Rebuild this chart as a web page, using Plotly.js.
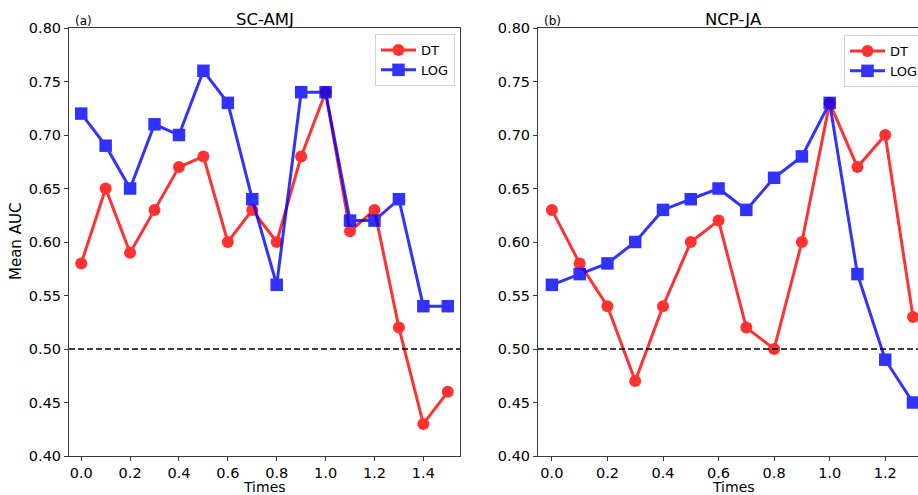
<!DOCTYPE html>
<html>
<head>
<meta charset="utf-8">
<script src="https://cdn.plot.ly/plotly-3.0.1.min.js"></script>
<style>
  html, body { margin: 0; padding: 0; overflow: hidden; background: #fff; }
  #chart { width: 940px; height: 495px; }
</style>
</head>
<body>
<div id="chart"></div>
<script>
// ---- data ----
const timesA = [0.0, 0.1, 0.2, 0.3, 0.4, 0.5, 0.6, 0.7, 0.8, 0.9, 1.0, 1.1, 1.2, 1.3, 1.4, 1.5];
const dtA    = [0.58, 0.65, 0.59, 0.63, 0.67, 0.68, 0.60, 0.63, 0.60, 0.68, 0.74, 0.61, 0.63, 0.52, 0.43, 0.46];
const logA   = [0.72, 0.69, 0.65, 0.71, 0.70, 0.76, 0.73, 0.64, 0.56, 0.74, 0.74, 0.62, 0.62, 0.64, 0.54, 0.54];

const timesB = [0.0, 0.1, 0.2, 0.3, 0.4, 0.5, 0.6, 0.7, 0.8, 0.9, 1.0, 1.1, 1.2, 1.3];
const dtB    = [0.63, 0.58, 0.54, 0.47, 0.54, 0.60, 0.62, 0.52, 0.50, 0.60, 0.73, 0.67, 0.70, 0.53];
const logB   = [0.56, 0.57, 0.58, 0.60, 0.63, 0.64, 0.65, 0.63, 0.66, 0.68, 0.73, 0.57, 0.49, 0.45];

const seriesNames = ["DT", "LOG"];
const panelTitles = ["SC-AMJ", "NCP-JA"];
const panelTags = ["(a)", "(b)"];
const baseline = 0.5;
const yTickVals = [0.40, 0.45, 0.50, 0.55, 0.60, 0.65, 0.70, 0.75, 0.80];

// ---- layout helpers ----
const W = 940, H = 495, T = 28, B = 39;
const PH = H - T - B;
const px = v => v / W;
const py = v => (H - B - v) / PH;

const FONT = "DejaVu Sans, Liberation Sans, sans-serif";
const RED = "rgb(255,0,0)", BLUE = "rgb(0,0,255)";

function mk(x, y, name, color, symbol, xa, ya, legend, size) {
  return {
    x: x, y: y, name: name, type: "scatter", mode: "lines+markers",
    xaxis: xa, yaxis: ya, legend: legend, opacity: 0.8,
    line: { color: color, width: 3 },
    marker: { color: color, symbol: symbol, size: size, line: { width: 0 } }
  };
}

const data = [
  mk(timesA, dtA, seriesNames[0], RED, "circle", "x", "y", "legend", 12),
  mk(timesA, logA, seriesNames[1], BLUE, "square", "x", "y", "legend", 12.5),
  mk(timesB, dtB, seriesNames[0], RED, "circle", "x2", "y2", "legend2", 12),
  mk(timesB, logB, seriesNames[1], BLUE, "square", "x2", "y2", "legend2", 12.5)
];

const axisCommon = {
  showgrid: false, zeroline: false, showline: true, mirror: true,
  linecolor: "#3a3a3a", linewidth: 1, ticks: "outside", ticklen: 4,
  tickwidth: 1, tickcolor: "#3a3a3a", automargin: false,
  tickfont: { family: FONT, size: 14.5, color: "#000" }
};

const xTicks = { tickmode: "linear", tick0: 0, dtick: 0.2, tickformat: ".1f" };
const yTicks = { tickmode: "array", tickvals: yTickVals, ticktext: yTickVals.map(v => v.toFixed(2)) };

const legendCommon = {
  bgcolor: "rgba(255,255,255,0.9)", bordercolor: "#d0d0d0", borderwidth: 1,
  font: { family: FONT, size: 13, color: "#000" },
  xanchor: "left", yanchor: "top", tracegroupgap: 0, itemwidth: 35
};

const layout = {
  width: W, height: H,
  margin: { l: 0, r: 0, t: T, b: B, pad: 0 },
  paper_bgcolor: "#fff", plot_bgcolor: "#fff",
  showlegend: true,
  font: { family: FONT, color: "#000" },
  xaxis: Object.assign({}, axisCommon, xTicks, { domain: [px(69), px(460)], range: [-0.05, 1.55], anchor: "y" }),
  yaxis: Object.assign({}, axisCommon, yTicks, { domain: [0, 1], range: [0.4, 0.8], anchor: "x" }),
  xaxis2: Object.assign({}, axisCommon, xTicks, { domain: [px(538), px(928)], range: [-0.05, 1.354], anchor: "y2" }),
  yaxis2: Object.assign({}, axisCommon, yTicks, { domain: [0, 1], range: [0.4, 0.8], anchor: "x2" }),
  legend: Object.assign({}, legendCommon, { x: px(375), y: py(34) }),
  legend2: Object.assign({}, legendCommon, { x: px(844), y: py(35) }),
  shapes: [
    { type: "line", xref: "x domain", yref: "y", x0: 0, x1: 1, y0: baseline, y1: baseline,
      line: { color: "#000", width: 1.5, dash: "6px,3px" }, layer: "above" },
    { type: "line", xref: "x2 domain", yref: "y2", x0: 0, x1: 1, y0: baseline, y1: baseline,
      line: { color: "#000", width: 1.5, dash: "6px,3px" }, layer: "above" }
  ],
  annotations: [
    { text: panelTitles[0], xref: "paper", yref: "paper", x: px(264.5), y: py(19), xanchor: "center", yanchor: "middle", showarrow: false, font: { family: FONT, size: 16.5, color: "#000" } },
    { text: panelTitles[1], xref: "paper", yref: "paper", x: px(733), y: py(19), xanchor: "center", yanchor: "middle", showarrow: false, font: { family: FONT, size: 16.5, color: "#000" } },
    { text: panelTags[0], xref: "paper", yref: "paper", x: px(73), y: py(21), xanchor: "left", yanchor: "middle", showarrow: false, font: { family: FONT, size: 12, color: "#000" } },
    { text: panelTags[1], xref: "paper", yref: "paper", x: px(542), y: py(21), xanchor: "left", yanchor: "middle", showarrow: false, font: { family: FONT, size: 12, color: "#000" } },
    { text: "Mean AUC", xref: "paper", yref: "paper", x: px(16), y: py(242), xanchor: "center", yanchor: "middle", textangle: -90, showarrow: false, font: { family: FONT, size: 15, color: "#000" } },
    { text: "Times", xref: "paper", yref: "paper", x: px(264.5), y: py(487), xanchor: "center", yanchor: "middle", showarrow: false, font: { family: FONT, size: 14, color: "#000" } },
    { text: "Times", xref: "paper", yref: "paper", x: px(733), y: py(487), xanchor: "center", yanchor: "middle", showarrow: false, font: { family: FONT, size: 14, color: "#000" } }
  ]
};

Plotly.newPlot("chart", data, layout, { staticPlot: true, displayModeBar: false });
</script>
</body>
</html>
